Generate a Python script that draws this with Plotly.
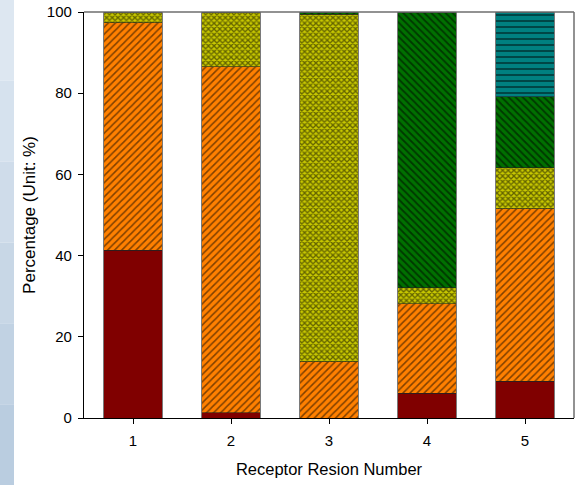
import plotly.graph_objects as go

regions = [1, 2, 3, 4, 5]
series_names = ["S1", "S2", "S3", "S4", "S5"]
red_vals = [41.3, 1.3, 0.0, 6.1, 9.1]
orange_vals = [56.1, 85.2, 13.9, 22.1, 42.4]
yellow_vals = [2.6, 13.5, 85.6, 3.9, 10.1]
green_vals = [0.0, 0.0, 0.5, 67.9, 17.5]
teal_vals = [0.0, 0.0, 0.0, 0.0, 20.9]
y_ticks = [0, 20, 40, 60, 80, 100]

styles = [
    ("#800000", "", 5, 0.3),
    ("#FF8000", "/", 5, 0.3),
    ("#C8C800", "x", 4, 0.55),
    ("#007000", "\\", 5, 0.35),
    ("#008080", "-", 6, 0.3),
]
all_vals = [red_vals, orange_vals, yellow_vals, green_vals, teal_vals]

fig = go.Figure()
for name, vals, (col, shp, sz, sol) in zip(series_names, all_vals, styles):
    fig.add_trace(go.Bar(
        x=regions, y=vals, name=name, width=0.6,
        marker=dict(
            color=col,
            line=dict(color="#222222", width=0.6),
            pattern=dict(shape=shp, fgcolor="black", bgcolor=col,
                         size=sz, solidity=sol, fillmode="overlay"),
        ),
    ))

# light blue decorative strip on the left edge (gradient bands)
blues = ["#DDE7F1", "#D6E2EE", "#CFDCEA", "#C8D7E6", "#C1D2E3", "#BACDE0"]
n = len(blues)
for i, c in enumerate(blues):
    fig.add_shape(type="rect", xref="paper", yref="paper",
                  x0=-84 / 490, x1=-70 / 490,
                  y0=1 + 12 / 406 - (i + 1) * (485 / 406) / n,
                  y1=1 + 12 / 406 - i * (485 / 406) / n,
                  fillcolor=c, line=dict(width=0), layer="below")

# gray top/right frame
fig.add_shape(type="line", xref="paper", yref="paper", x0=0, x1=1, y0=1, y1=1,
              line=dict(color="#6E6E6E", width=1.5))
fig.add_shape(type="line", xref="paper", yref="paper", x0=1, x1=1, y0=0, y1=1,
              line=dict(color="#6E6E6E", width=1.5))

fig.update_layout(
    barmode="stack",
    width=577, height=485,
    margin=dict(l=84, r=3, t=12, b=67),
    plot_bgcolor="white", paper_bgcolor="white",
    showlegend=False,
    font=dict(family="Liberation Sans, Arial, sans-serif", size=15, color="black"),
    xaxis=dict(
        range=[0.5, 5.5], tickvals=regions, ticktext=[str(r) for r in regions],
        tickfont=dict(size=15), ticklabelstandoff=4,
        showline=True, linecolor="black", linewidth=1.2,
        ticks="outside", ticklen=5, tickcolor="black",
        showgrid=False, zeroline=False, automargin=False,
        title=dict(text="Receptor Resion Number", font=dict(size=16.5), standoff=15),
    ),
    yaxis=dict(
        range=[0, 100], tickvals=y_ticks, tickfont=dict(size=15), ticklabelstandoff=3,
        showline=True, linecolor="black", linewidth=1.2,
        ticks="outside", ticklen=5, tickcolor="black",
        showgrid=False, zeroline=False, automargin=False,
        title=dict(text="Percentage (Unit: %)", font=dict(size=17), standoff=6),
    ),
)

fig.write_html("out.html", config={"displayModeBar": False},
               post_script="document.body.style.margin='0';document.body.style.overflow='hidden';")
